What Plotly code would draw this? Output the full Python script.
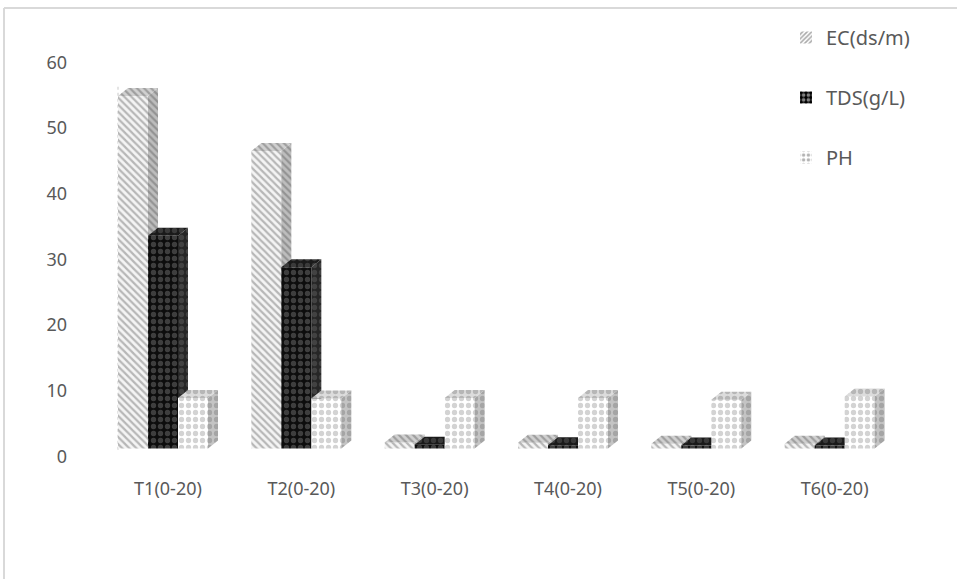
import plotly.graph_objects as go

# ---- data ----
categories = ["T1(0-20)", "T2(0-20)", "T3(0-20)", "T4(0-20)", "T5(0-20)", "T6(0-20)"]
ec_values = [53.7, 45.3, 0.9, 0.85, 0.7, 0.7]      # EC(ds/m)
tds_values = [32.4, 27.6, 0.55, 0.5, 0.45, 0.45]   # TDS(g/L)
ph_values = [7.7, 7.6, 7.7, 7.7, 7.4, 7.9]         # PH
series_names = ["EC(ds/m)", "TDS(g/L)", "PH"]
y_ticks = [0, 10, 20, 30, 40, 50, 60]

# ---- 3D column geometry (axis units) ----
BAR_W = 0.225      # width of one column
DEPTH_X = 0.075    # horizontal extrusion of the depth
DEPTH_Y = 1.22     # vertical extrusion of the depth
FLOOR = 1.2        # floor height of the front faces

TEXT = "#595959"
FONT = "Noto Sans"

# face styles: (pattern shape, background, foreground, size, solidity)
styles = {
    "EC(ds/m)": {
        "front": ("\\", "#f4f4f4", "#7a7a7a", 5, 0.45),
        "side": ("\\", "#bdbdbd", "#6a6a6a", 5, 0.45),
        "top": ("\\", "#d0d0d0", "#6e6e6e", 5, 0.45),
    },
    "TDS(g/L)": {
        "front": (".", "#0d0d0d", "#707070", 7, 0.45),
        "side": (".", "#262626", "#5e5e5e", 7, 0.45),
        "top": (".", "#1a1a1a", "#5a5a5a", 7, 0.45),
    },
    "PH": {
        "front": (".", "#ffffff", "#a8a8a8", 7, 0.45),
        "side": (".", "#c4c4c4", "#858585", 7, 0.45),
        "top": (".", "#dcdcdc", "#909090", 7, 0.45),
    },
}
legend_patterns = {
    "EC(ds/m)": ("/", "#ffffff", "#555555", 4, 0.5),
    "TDS(g/L)": (".", "#000000", "#ffffff", 6, 0.45),
    "PH": (".", "#ffffff", "#666666", 6, 0.4),
}


def faces(values, s_idx):
    """Polygons for front, side and top faces of one series."""
    fx, fy, sx, sy, tx, ty = [], [], [], [], [], []
    for i, v in enumerate(values):
        x0 = i - 1.5 * BAR_W + s_idx * BAR_W
        x1 = x0 + BAR_W
        b = FLOOR
        t = FLOOR + v
        fx += [x0, x1, x1, x0, x0, None]
        fy += [b, b, t, t, b, None]
        sx += [x1, x1 + DEPTH_X, x1 + DEPTH_X, x1, x1, None]
        sy += [b, b + DEPTH_Y, t + DEPTH_Y, t, b, None]
        tx += [x0, x1, x1 + DEPTH_X, x0 + DEPTH_X, x0, None]
        ty += [t, t, t + DEPTH_Y, t + DEPTH_Y, t, None]
    return {"front": (fx, fy), "side": (sx, sy), "top": (tx, ty)}


fig = go.Figure()

for s_idx, (name, vals) in enumerate(zip(series_names, [ec_values, tds_values, ph_values])):
    polys = faces(vals, s_idx)
    for face in ["front", "side", "top"]:
        shape, bg, fg, size, sol = styles[name][face]
        xs, ys = polys[face]
        fig.add_trace(go.Scatter(
            x=xs, y=ys, mode="lines", fill="toself",
            fillcolor=bg,
            fillpattern=dict(shape=shape, bgcolor=bg, fgcolor=fg, size=size,
                             solidity=sol, fillmode="overlay"),
            line=dict(width=0, color=bg),
            hoverinfo="skip", showlegend=False,
        ))

# legend entries
for k, name in enumerate(series_names):
    shape, bg, fg, size, sol = legend_patterns[name]
    fig.add_trace(go.Bar(
        x=[None], y=[None], name=name, legendgroup=f"g{k}",
        marker=dict(color=bg, line=dict(width=0),
                    pattern=dict(shape=shape, bgcolor=bg, fgcolor=fg, size=size, solidity=sol)),
    ))

# back-wall edge
fig.add_shape(type="line", xref="x", yref="y",
              x0=-1.5 * BAR_W, x1=-1.5 * BAR_W, y0=FLOOR - 0.2, y1=56.6,
              line=dict(color="#c9c9c9", width=1, dash="dot"), layer="below")

# chart frame (left and top edges)
L, W, T, H = 80, 843, 10, 466.5
fig.add_shape(type="line", xref="paper", yref="paper",
              x0=(4 - L) / W, x1=(4 - L) / W, y0=(T + H - 8) / H, y1=-0.3,
              line=dict(color="#d9d9d9", width=2))
fig.add_shape(type="line", xref="paper", yref="paper",
              x0=(4 - L) / W, x1=1.2, y0=(T + H - 8) / H, y1=(T + H - 8) / H,
              line=dict(color="#d9d9d9", width=2))

fig.update_layout(
    width=957, height=579,
    margin=dict(l=L, r=957 - L - W, t=T, b=579 - T - H),
    plot_bgcolor="white", paper_bgcolor="white",
    font=dict(family=FONT, color=TEXT, size=18),
    showlegend=True,
    legend=dict(x=(786 - L) / W, y=(H - 8) / H, xanchor="left", yanchor="top",
                tracegroupgap=31, font=dict(size=20, color=TEXT),
                bgcolor="rgba(0,0,0,0)"),
    xaxis=dict(range=[-0.6225, 5.7], tickvals=[i + DEPTH_X / 2 for i in range(len(categories))],
               ticktext=categories, showgrid=False, zeroline=False, showline=False,
               ticks="", fixedrange=True),
    yaxis=dict(range=[-3, 68], tickvals=y_ticks, ticktext=[str(t) for t in y_ticks],
               showgrid=False, zeroline=False, showline=False, ticks="",
               ticklabelstandoff=12, fixedrange=True),
)

fig.write_html("out.html")
